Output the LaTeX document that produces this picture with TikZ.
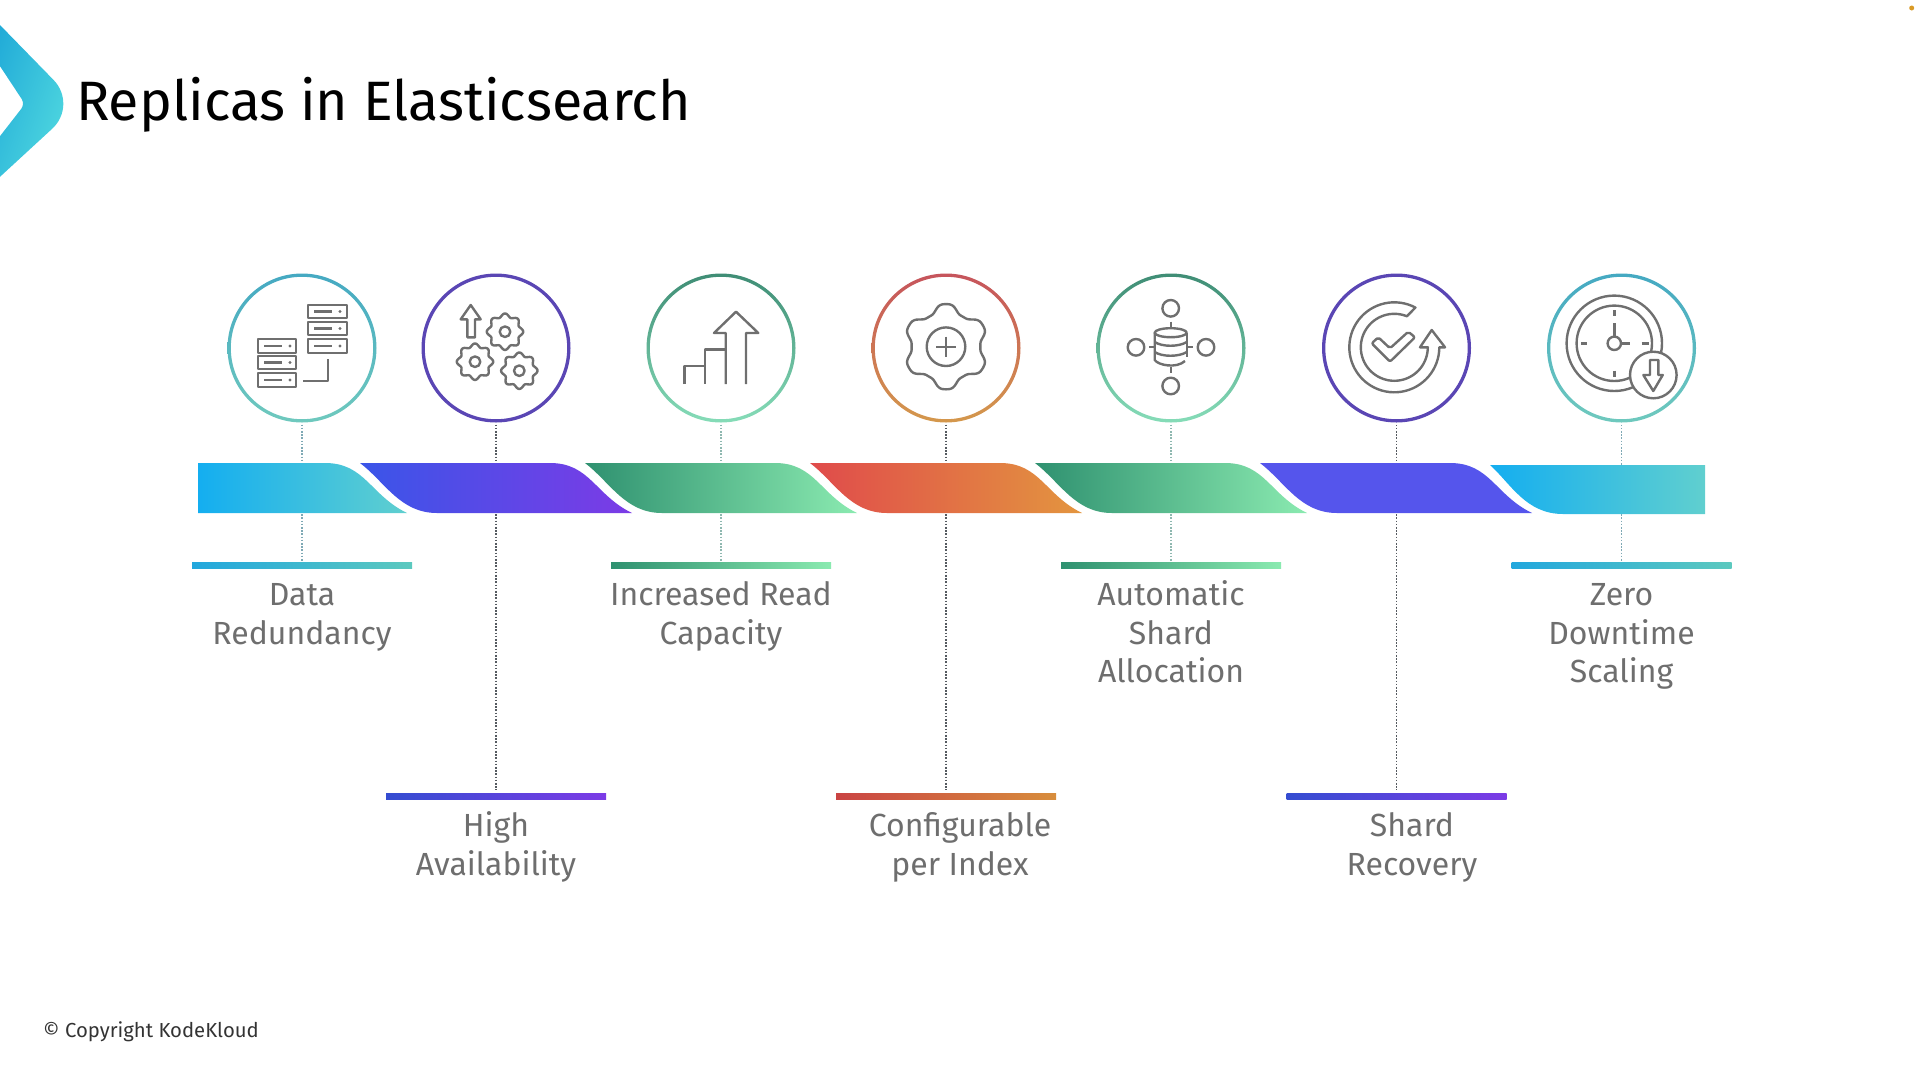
\documentclass[tikz,border=0pt]{standalone}
\usepackage{fontspec}
\setmainfont{Fira Sans}
\definecolor{icongray}{HTML}{6F6F6F}
\definecolor{labelgray}{HTML}{6E6E6E}
\definecolor{cyanA}{HTML}{14AEF0}
\definecolor{cyanB}{HTML}{60CFCF}
\definecolor{blueA}{HTML}{3A55E8}
\definecolor{blueB}{HTML}{7C3BE6}
\definecolor{greenA}{HTML}{2F9170}
\definecolor{greenB}{HTML}{8AEAB0}
\definecolor{redA}{HTML}{E04B4B}
\definecolor{redB}{HTML}{E3953F}
\definecolor{indigo}{HTML}{5555EC}
\definecolor{ringcyanA}{HTML}{45A9C2}
\definecolor{ringcyanB}{HTML}{6FC9BE}
\definecolor{ringblue}{HTML}{5A46B4}
\definecolor{ringgreenA}{HTML}{3F8D75}
\definecolor{ringgreenB}{HTML}{86DCB8}
\definecolor{ringredA}{HTML}{C6545C}
\definecolor{ringredB}{HTML}{D4984C}
\definecolor{rulecyanA}{HTML}{22A7DD}
\definecolor{rulecyanB}{HTML}{5CC9BF}
\definecolor{logoA}{HTML}{22ACD8}
\definecolor{logoB}{HTML}{55DDE0}
\definecolor{dotcyan}{HTML}{7FA9B5}
\definecolor{dotgreen}{HTML}{8FB8B0}
\definecolor{dotdark}{HTML}{555A60}
\newcommand{\labeltop}{\rule{0pt}{30pt}}
\begin{document}
\begin{tikzpicture}[x=1pt,y=-1pt,
    ring/.style={circle,minimum size=147pt,inner sep=0pt,outer sep=0pt},
    rulebar/.style={rectangle,minimum width=220pt,minimum height=6pt,inner sep=0pt,outer sep=0pt},
    label/.style={anchor=north,align=center,inner sep=0pt,text=labelgray,font=\fontsize{32}{38.5}\selectfont},
    dotline/.style={line width=1.6pt,dash pattern=on 1.6pt off 1.6pt,shorten <=3pt},
    icon/.style={draw=icongray,line width=2.4pt,line join=round},
    cyandots/.style={dotline,draw=dotcyan},
    darkdots/.style={dotline,draw=dotdark},
    greendots/.style={dotline,draw=dotgreen}]
    \useasboundingbox (0,0) rectangle (1920,1080);
    % header
    \shade[left color=logoA,right color=logoB,shading angle=70]
      (-10,14.8) [rounded corners=35pt] -- (78,105) [sharp corners] -- (-10,186) -- (-10,149) [rounded corners=6pt] -- (25,104) [sharp corners] -- (-10,51) -- cycle;
    \node[anchor=base west,inner sep=0pt,text=black,font=\fontsize{55.5}{60}\selectfont] (title) at (76,120.5) {Replicas in Elasticsearch};
    \fill[orange!70!yellow!70!gray] (1911.7,8) circle (2.5);
    \node[anchor=west,inner sep=0pt,text=black!80,font=\fontsize{20.3}{24}\selectfont] (copyright) at (43,1032) {© Copyright KodeKloud};
    % rings
    \node[ring] (ringA) at (302,348) {};
    \node[ring] (ringB) at (496,348) {};
    \node[ring] (ringC) at (721,348) {};
    \node[ring] (ringD) at (946,348) {};
    \node[ring] (ringE) at (1171,348) {};
    \node[ring] (ringF) at (1396.5,348) {};
    \node[ring] (ringG) at (1621.5,348) {};
    \shade[even odd rule,top color=ringcyanA,bottom color=ringcyanB] (ringA.center) circle (74.5) circle (71.2);
    \fill[even odd rule,ringblue] (ringB.center) circle (74.5) circle (71.2);
    \shade[even odd rule,top color=ringgreenA,bottom color=ringgreenB] (ringC.center) circle (74.5) circle (71.2);
    \shade[even odd rule,top color=ringredA,bottom color=ringredB] (ringD.center) circle (74.5) circle (71.2);
    \shade[even odd rule,top color=ringgreenA,bottom color=ringgreenB] (ringE.center) circle (74.5) circle (71.2);
    \fill[even odd rule,ringblue] (ringF.center) circle (74.5) circle (71.2);
    \shade[even odd rule,top color=ringcyanA,bottom color=ringcyanB] (ringG.center) circle (74.5) circle (71.2);
    % rules under the band
    \node[rulebar,left color=rulecyanA,right color=rulecyanB] (ruleA) at (302,565) {};
    \node[rulebar,left color=blueA!90!black,right color=blueB] (ruleB) at (496,796) {};
    \node[rulebar,left color=greenA,right color=greenB] (ruleC) at (721,565) {};
    \node[rulebar,left color=redA!90!black,right color=redB!95!black] (ruleD) at (946,796) {};
    \node[rulebar,left color=greenA,right color=greenB] (ruleE) at (1171,565) {};
    \node[rulebar,left color=blueA!90!black,right color=blueB] (ruleF) at (1396.5,796) {};
    \node[rulebar,left color=rulecyanA,right color=rulecyanB] (ruleG) at (1621.5,565) {};
    % connectors
    \draw[cyandots] (ringA) -- (ruleA);
    \draw[darkdots,shorten >=3pt] (ringB) -- (ruleB);
    \draw[greendots] (ringC) -- (ruleC);
    \draw[darkdots,shorten >=3pt] (ringD) -- (ruleD);
    \draw[greendots] (ringE) -- (ruleE);
    \draw[darkdots,shorten >=3pt] (ringF) -- (ruleF);
    \draw[cyandots] (ringG) -- (ruleG);
    % band
    \shade[left color=cyanA,right color=cyanB] (198,463) -- (325,463) .. controls (365,463) and (370,495) .. (407,513) -- (198,513) -- cycle;
    \shade[left color=blueA,right color=blueB] (360,463) -- (550,463) .. controls (590,463) and (595,495) .. (632,513) -- (437,513) .. controls (400,513) and (385,482) .. cycle;
    \shade[left color=greenA,right color=greenB] (585,463) -- (775,463) .. controls (815,463) and (820,495) .. (857,513) -- (662,513) .. controls (625,513) and (610,482) .. cycle;
    \shade[left color=redA,right color=redB] (810,463) -- (1000,463) .. controls (1040,463) and (1045,495) .. (1082,513) -- (887,513) .. controls (850,513) and (835,482) .. cycle;
    \shade[left color=greenA,right color=greenB] (1035,463) -- (1225,463) .. controls (1265,463) and (1270,495) .. (1307,513) -- (1112,513) .. controls (1075,513) and (1060,482) .. cycle;
    \fill[indigo] (1260,463) -- (1450,463) .. controls (1490,463) and (1495,495) .. (1532,513) -- (1337,513) .. controls (1300,513) and (1285,482) .. cycle;
    \shade[left color=cyanA,right color=cyanB] (1490,465) -- (1705,465) -- (1705,514) -- (1563,514) .. controls (1526,514) and (1511,484) .. cycle;
    % labels
    \node[label] (labA) at (302,575.5) {\labeltop Data\\Redundancy};
    \node[label] (labB) at (496,806.5) {\labeltop High\\Availability};
    \node[label] (labC) at (721,575.5) {\labeltop Increased Read\\Capacity};
    \node[label] (labD) at (960,806.5) {\labeltop Configurable\\per Index};
    \node[label] (labE) at (1171,575.5) {\labeltop Automatic\\Shard\\Allocation};
    \node[label] (labF) at (1412,806.5) {\labeltop Shard\\Recovery};
    \node[label] (labG) at (1621.5,575.5) {\labeltop Zero\\Downtime\\Scaling};
    % icon: servers
    \draw[icon] (308,305) rectangle (347,318);
    \draw[icon] (308,322) rectangle (347,335);
    \draw[icon] (308,339) rectangle (347,353);
    \draw[icon] (258,339) rectangle (296,353);
    \draw[icon] (258,356) rectangle (296,369);
    \draw[icon] (258,373) rectangle (296,387);
    \draw[icon] (314,311.5) -- (332,311.5);
    \draw[icon] (314,328.5) -- (332,328.5);
    \draw[icon] (314,346) -- (332,346);
    \draw[icon] (264,346) -- (282,346);
    \draw[icon] (264,362.5) -- (282,362.5);
    \draw[icon] (264,380) -- (282,380);
    \fill[icongray] (340,311.5) circle (1.6);
    \fill[icongray] (340,328.5) circle (1.6);
    \fill[icongray] (340,346) circle (1.6);
    \fill[icongray] (290,346) circle (1.6);
    \fill[icongray] (290,362.5) circle (1.6);
    \fill[icongray] (290,380) circle (1.6);
    \draw[icon] (328,359) -- (328,381) -- (303,381);
    % icon: gears
    \draw[icon] (467.3,337.3) -- (467.3,319.3) -- (460.7,319.3) -- (470.7,305) -- (480.7,319.3) -- (475,319.3) -- (475,337.3) -- cycle;
    \draw[icon,domain=0:360,samples=145] plot ({505+(16.5+1.7*cos(8*\x))*cos(\x)},{331.7+(16.5+1.7*cos(8*\x))*sin(\x)});
    \draw[icon] (505,331.7) circle (5.3);
    \draw[icon,domain=0:360,samples=145] plot ({475+(16.5+1.7*cos(8*\x))*cos(\x)},{361.7+(16.5+1.7*cos(8*\x))*sin(\x)});
    \draw[icon] (475,361.7) circle (5.3);
    \draw[icon,domain=0:360,samples=145] plot ({519.3+(16.5+1.7*cos(8*\x))*cos(\x)},{370.7+(16.5+1.7*cos(8*\x))*sin(\x)});
    \draw[icon] (519.3,370.7) circle (5.3);
    % icon: rising steps
    \draw[icon] (725.7,384) -- (725.7,333) -- (714,333) -- (736,311.7) -- (758.3,333) -- (746,333) -- (746,384);
    \draw[icon] (684.3,384) -- (684.3,365.7) -- (705,365.7) -- (705,384);
    \draw[icon] (705,365.7) -- (705,349.3) -- (725.7,349.3);
    % icon: gear with plus
    \draw[icon,domain=0:360,samples=145] plot ({946+(38.5+4.6*cos(6*(\x-90))-0.5*cos(18*(\x-90)))*cos(\x)},{346.7+(38.5+4.6*cos(6*(\x-90))-0.5*cos(18*(\x-90)))*sin(\x)});
    \draw[icon] (946,346.7) circle (19.3);
    \draw[icon] (936,346.7) -- (956,346.7);
    \draw[icon] (946,336.7) -- (946,356.7);
    % icon: database with nodes
    \draw[icon] (1170.7,308.3) circle (8.3);
    \draw[icon] (1136,347.3) circle (8.3);
    \draw[icon] (1206,347.3) circle (8.3);
    \draw[icon] (1170.7,386) circle (8.3);
    \draw[icon] (1170.7,321.7) -- (1170.7,328);
    \draw[icon] (1149.3,347) -- (1155,347);
    \draw[icon] (1187,347) -- (1192.7,347);
    \draw[icon] (1170.7,367.3) -- (1170.7,372.7);
    \draw[icon] (1170.7,332.7) ellipse (16 and 4.5);
    \draw[icon] (1154.7,332.7) -- (1154.7,360) .. controls (1158,365) and (1176,369) .. (1185,361);
    \draw[icon] (1186.7,332.7) -- (1186.7,357);
    \draw[icon] (1154.7,342) .. controls (1162,347) and (1179,347) .. (1186.7,342);
    \draw[icon] (1154.7,352) .. controls (1162,357) and (1179,357) .. (1186.7,352);
    % icon: circular arrow with check
    \draw[icon,domain=62:360,samples=60] plot ({1394.3+45*cos(\x)},{347.3-45*sin(\x)}) -- (1445,347.3) -- (1431.7,330) -- (1420,347.3) -- (1427.8,347.3) -- plot[domain=360:68,samples=60] ({1394.3+33.5*cos(\x)},{347.3-33.5*sin(\x)}) -- cycle;
    \draw[icon,rounded corners=2pt] (1371.7,343.3) -- (1378.3,337.3) -- (1390,348.3) -- (1408.3,331.7) -- (1415,337.3) -- (1390,361.7) -- cycle;
    % icon: clock with down arrow
    \draw[icon] (1614.3,343.3) circle (47.7);
    \draw[icon] (1614.3,343.3) circle (37.7);
    \draw[icon] (1614.3,343.3) circle (6.7);
    \draw[icon] (1614.3,336.7) -- (1614.3,322.7);
    \draw[icon] (1621.7,343.3) -- (1630,343.3);
    \draw[icon] (1614.3,310) -- (1614.3,316);
    \draw[icon] (1614.3,370.7) -- (1614.3,376.7);
    \draw[icon] (1581,343.3) -- (1586.7,343.3);
    \draw[icon] (1641.7,343.3) -- (1649.3,343.3);
    \draw[icon,fill=white] (1653.3,375) circle (23.3);
    \draw[icon] (1650,360) -- (1658.3,360) -- (1658.3,375) -- (1662.7,375) -- (1653.3,391) -- (1643.3,375) -- (1650,375) -- cycle;
\end{tikzpicture}
\end{document}
